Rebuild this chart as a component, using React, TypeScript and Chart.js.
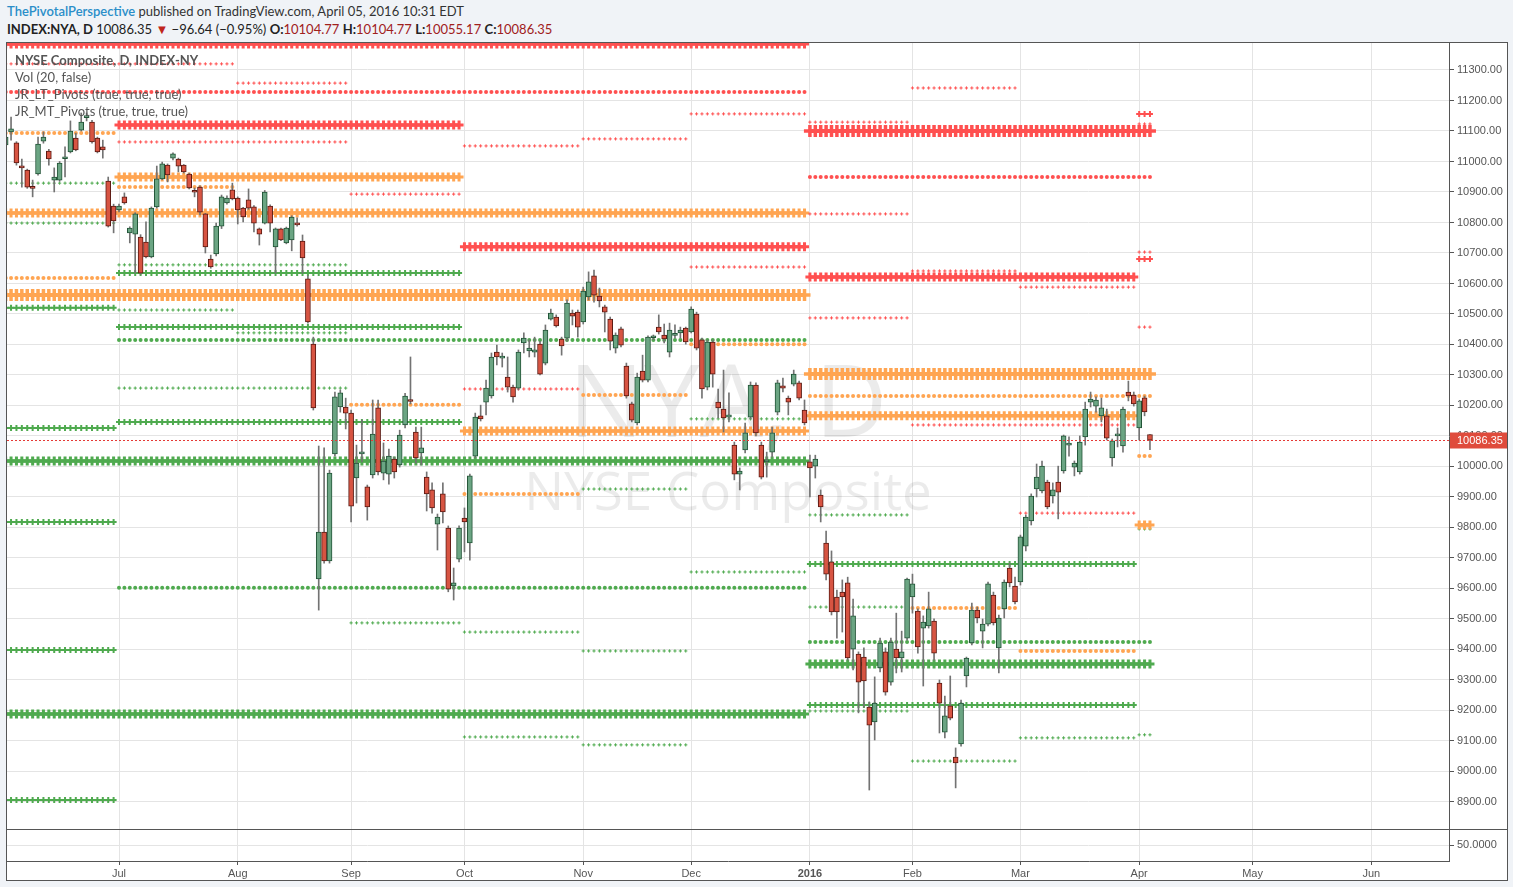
import React, { useEffect, useRef } from 'react';
import { Chart, registerables } from 'chart.js';
Chart.register(...registerables);

// ---------- DATA ----------
// trading-day index: 0 = 1 Jul 2015, first bar (-21) = 2 Jun 2015, last bar (191) = 5 Apr 2016
const FIRST_BAR = -21;
// [open, high, low, close]
const candles: number[][] = [
  [11054, 11146, 11050, 11080], [11097, 11146, 11070, 11107], [11061, 11065, 10988, 10995], [10981, 11008, 10916, 10979],
  [10972, 10975, 10912, 10916], [10914, 10939, 10884, 10912], [10959, 11080, 10955, 11057], [11067, 11097, 11060, 11080],
  [11034, 11040, 10988, 11008], [10939, 10979, 10900, 10949], [10939, 11000, 10935, 10995], [11009, 11048, 10949, 11011],
  [11031, 11133, 11028, 11100], [11077, 11093, 11035, 11038], [11103, 11159, 11100, 11129], [11144, 11159, 11133, 11146],
  [11129, 11135, 11060, 11064], [11077, 11080, 11028, 11031], [11048, 11070, 11011, 11038], [10936, 10949, 10785, 10788],
  [10854, 10860, 10766, 10805],
  // Jul 2015
  [10841, 10860, 10835, 10854], [10884, 10897, 10860, 10864], [10766, 10786, 10733, 10782], [10762, 10832, 10634, 10828],
  [10752, 10760, 10630, 10634], [10736, 10802, 10684, 10687], [10687, 10851, 10684, 10847], [10851, 10985, 10847, 10943],
  [10943, 10998, 10940, 10992], [10988, 10992, 10933, 10956], [11011, 11028, 11005, 11025], [11008, 11011, 10966, 10985],
  [10988, 10990, 10962, 10966], [10959, 10962, 10910, 10913], [10901, 10913, 10884, 10899], [10916, 10920, 10825, 10834],
  [10828, 10830, 10700, 10720], [10680, 10693, 10650, 10654], [10697, 10798, 10690, 10788], [10788, 10890, 10780, 10884],
  [10864, 10887, 10860, 10880], [10907, 10929, 10874, 10877],
  // Aug 2015
  [10880, 10884, 10795, 10841], [10847, 10850, 10802, 10818], [10874, 10910, 10843, 10847], [10851, 10855, 10769, 10798],
  [10779, 10782, 10726, 10762], [10798, 10905, 10795, 10900], [10854, 10858, 10769, 10798], [10720, 10782, 10634, 10779],
  [10779, 10782, 10740, 10743], [10733, 10785, 10730, 10782], [10743, 10822, 10707, 10818], [10798, 10815, 10788, 10792],
  [10739, 10759, 10634, 10684], [10615, 10625, 10470, 10474], [10401, 10424, 10185, 10192], [9631, 10067, 9529, 9785],
  [9785, 10061, 9683, 9690], [9690, 9988, 9683, 9978], [10041, 10244, 10034, 10228], [10195, 10251, 10178, 10241],
  [10195, 10224, 10123, 10175],
  // Sep 2015
  [10175, 10185, 9818, 9870], [9962, 10070, 9880, 10011], [10041, 10152, 10015, 10047], [9933, 9939, 9824, 9867],
  [9972, 10218, 9962, 10106], [10192, 10218, 9972, 9982], [9978, 10077, 9956, 10018], [9975, 10057, 9942, 10034],
  [10024, 10031, 9962, 9982], [10005, 10119, 9998, 10103], [10136, 10240, 10126, 10231], [10217, 10359, 10205, 10213],
  [10113, 10129, 10011, 10028], [10044, 10129, 10005, 10061], [9965, 9982, 9854, 9910], [9923, 9946, 9847, 9864],
  [9811, 9844, 9726, 9834], [9910, 9946, 9815, 9851], [9798, 9805, 9589, 9598], [9608, 9667, 9562, 9618],
  [9696, 9805, 9687, 9798],
  // Oct 2015
  [9831, 9864, 9720, 9818], [9749, 9975, 9693, 9969], [10034, 10175, 10028, 10162], [10166, 10201, 10149, 10156],
  [10211, 10283, 10169, 10257], [10231, 10372, 10224, 10359], [10375, 10398, 10333, 10359], [10355, 10372, 10326, 10358],
  [10293, 10359, 10244, 10260], [10260, 10267, 10211, 10228], [10257, 10382, 10251, 10375], [10405, 10438, 10372, 10421],
  [10379, 10415, 10359, 10388], [10375, 10424, 10359, 10382], [10401, 10411, 10300, 10303], [10339, 10464, 10333, 10447],
  [10483, 10516, 10480, 10503], [10490, 10497, 10457, 10461], [10418, 10424, 10365, 10395], [10421, 10546, 10411, 10536],
  [10503, 10513, 10464, 10493], [10506, 10513, 10424, 10457],
  // Nov 2015
  [10474, 10588, 10467, 10575], [10556, 10638, 10546, 10605], [10625, 10644, 10539, 10562], [10559, 10585, 10523, 10543],
  [10523, 10529, 10441, 10506], [10483, 10490, 10382, 10411], [10388, 10438, 10372, 10431], [10451, 10457, 10392, 10398],
  [10329, 10339, 10224, 10231], [10205, 10211, 10146, 10152], [10143, 10306, 10136, 10293], [10313, 10365, 10277, 10283],
  [10283, 10428, 10277, 10424], [10422, 10431, 10415, 10424], [10457, 10497, 10434, 10441], [10431, 10467, 10405, 10418],
  [10375, 10470, 10359, 10447], [10430, 10464, 10421, 10432], [10438, 10457, 10421, 10447], [10454, 10457, 10401, 10408],
  // Dec 2015
  [10441, 10523, 10438, 10516], [10500, 10506, 10382, 10388], [10415, 10421, 10224, 10254], [10260, 10415, 10251, 10408],
  [10408, 10415, 10260, 10303], [10211, 10254, 10159, 10192], [10188, 10316, 10113, 10159], [10162, 10241, 10146, 10169],
  [10070, 10080, 9956, 9975], [9975, 9995, 9923, 9985], [10054, 10142, 10044, 10110], [10162, 10277, 10156, 10267],
  [10267, 10274, 10100, 10110], [10070, 10080, 9959, 9965], [10015, 10047, 9965, 10021], [10047, 10129, 10031, 10110],
  [10178, 10283, 10169, 10274], [10264, 10290, 10244, 10257], [10224, 10231, 10169, 10211], [10270, 10316, 10264, 10303],
  [10274, 10280, 10218, 10224], [10185, 10218, 10136, 10143],
  // Jan 2016
  [10015, 10037, 9900, 9995], [10001, 10037, 9962, 10024], [9906, 9923, 9818, 9867], [9749, 9788, 9628, 9647],
  [9687, 9723, 9513, 9523], [9572, 9595, 9437, 9523], [9588, 9628, 9457, 9572], [9618, 9637, 9365, 9372],
  [9401, 9565, 9333, 9510], [9385, 9392, 9192, 9293], [9375, 9405, 9211, 9297], [9211, 9228, 8939, 9152],
  [9162, 9310, 9103, 9224], [9339, 9437, 9326, 9421], [9392, 9405, 9250, 9260], [9293, 9437, 9283, 9424],
  [9401, 9519, 9323, 9372], [9372, 9460, 9326, 9392], [9437, 9634, 9430, 9631],
  // Feb 2016
  [9572, 9647, 9519, 9615], [9526, 9533, 9388, 9408], [9470, 9510, 9280, 9490], [9477, 9588, 9470, 9533],
  [9493, 9500, 9365, 9388], [9290, 9300, 9126, 9224], [9129, 9247, 9110, 9182], [9215, 9313, 9169, 9175],
  [9047, 9077, 8946, 9028], [9090, 9234, 9083, 9224], [9313, 9375, 9277, 9372], [9421, 9552, 9415, 9529],
  [9529, 9539, 9487, 9503], [9460, 9500, 9405, 9483], [9483, 9621, 9477, 9615], [9578, 9588, 9480, 9487],
  [9405, 9513, 9323, 9503], [9533, 9628, 9503, 9621], [9667, 9683, 9605, 9618], [9608, 9637, 9549, 9556],
  // Mar 2016
  [9621, 9775, 9611, 9769], [9739, 9841, 9723, 9834], [9821, 9910, 9808, 9903], [9926, 10008, 9900, 9965],
  [9920, 10018, 9913, 10001], [9949, 9955, 9861, 9867], [9903, 9946, 9880, 9923], [9949, 10001, 9828, 9916],
  [9985, 10103, 9978, 10100], [10070, 10097, 10034, 10073], [9998, 10018, 9969, 10011], [9982, 10100, 9975, 10080],
  [10097, 10211, 10070, 10188], [10211, 10244, 10195, 10221], [10198, 10228, 10178, 10218], [10166, 10224, 10146, 10192],
  [10166, 10188, 10087, 10093], [10028, 10090, 10001, 10084], [10100, 10126, 10064, 10103], [10067, 10195, 10047, 10188],
  [10244, 10280, 10215, 10231], [10234, 10244, 10198, 10205],
  // Apr 2016
  [10126, 10221, 10087, 10215], [10225, 10231, 10166, 10179], [10104.77, 10104.77, 10055.17, 10086.35],
];

const LAST_CLOSE = 10086.35;

const monthTickIdx = [0, 22, 43, 64, 86, 106, 128, 147, 167, 189, 210, 232];
const monthLabels = ['Jul', 'Aug', 'Sep', 'Oct', 'Nov', 'Dec', '2016', 'Feb', 'Mar', 'Apr', 'May', 'Jun'];
const priceTicks = [8900, 9000, 9100, 9200, 9300, 9400, 9500, 9600, 9700, 9800, 9900, 10000, 10100, 10200, 10300,
  10400, 10500, 10600, 10700, 10800, 10900, 11000, 11100, 11200, 11300];
const volumeTicks = [50];

// pivot segments: [first bar, last bar, level]
const redXL = [[128, 191, 11100]];
const redBig = [[-21, 127, 11385], [0, 63, 11120], [64, 127, 10720], [128, 188, 10621]];
const redCross = [[189, 191, 10680], [189, 191, 11156]];
const redDot = [[-21, 127, 11228], [128, 191, 10949]];
const redSmall = [[-21, 21, 11320], [22, 42, 11257], [0, 42, 11064], [64, 85, 11051], [86, 105, 11074],
  [106, 127, 11156], [43, 63, 10893], [106, 127, 10654], [64, 85, 10254], [128, 146, 11129], [147, 166, 11241],
  [128, 146, 10828], [189, 191, 10703], [147, 166, 10641], [167, 188, 10588], [128, 146, 10487], [189, 191, 10457],
  [147, 188, 10136], [167, 188, 9847], [189, 191, 11123]];

const orangeXL = [[-21, 127, 10562], [128, 191, 10303]];
const orangeBig = [[0, 63, 10949], [-21, 127, 10831], [64, 127, 10116], [128, 188, 10166], [189, 191, 9808]];
const orangeDot = [[-21, -1, 11093], [0, 21, 10916], [-21, -1, 10618], [106, 127, 10401], [86, 105, 10234],
  [43, 63, 10202], [64, 85, 9910], [128, 191, 10231], [189, 191, 10034], [147, 166, 9536], [167, 188, 9395]];

const greenBig = [[-21, 127, 10018], [-21, 127, 9188], [128, 191, 9352]];
const greenCross = [[0, 63, 10634], [0, 63, 10457], [0, 63, 10146], [-21, -1, 10520], [-21, -1, 10126],
  [-21, -1, 9818], [-21, -1, 9398], [-21, -1, 8906], [128, 188, 9680], [128, 188, 9218]];
const greenDot = [[0, 127, 10415], [0, 127, 9602], [128, 191, 9424]];
const greenSmall = [[-21, -1, 10929], [-21, -1, 10798], [0, 42, 10661], [0, 21, 10513], [22, 42, 10438],
  [0, 42, 10257], [106, 127, 10156], [86, 105, 9926], [106, 127, 9654], [43, 63, 9487], [64, 85, 9457],
  [86, 105, 9395], [64, 85, 9113], [86, 105, 9087], [128, 146, 9841], [189, 191, 9795], [128, 146, 9539],
  [128, 146, 9198], [147, 166, 9034], [167, 188, 9110], [189, 191, 9120]];

// ---------- STYLE ----------
const RED = '#ff5050';
const ORANGE = '#ffa552';
const GREEN = '#4faa4f';
const UP_FILL = '#6ba583';
const UP_LINE = '#225437';
const DN_FILL = '#d75442';
const DN_LINE = '#5b1a13';
const WICK = '#737373';
const AXIS = '#555555';
const GRID = '#e4e4e4';
const TEXT = '#555555';
const X_MIN = -20.75;
const X_MAX = 246.4;
const P_MIN = 8811.2;
const P_MAX = 11388.5;

type Kind = 'xl' | 'big' | 'cross' | 'dot' | 'small';
const kindStyle: Record<Kind, any> = {
  xl: { pointStyle: 'cross', pointRadius: 6, pointBorderWidth: 3.5, showLine: true, borderWidth: 4 },
  big: { pointStyle: 'cross', pointRadius: 4.5, pointBorderWidth: 3, showLine: true, borderWidth: 3 },
  cross: { pointStyle: 'cross', pointRadius: 3, pointBorderWidth: 2, showLine: true, borderWidth: 1.5 },
  dot: { pointStyle: 'circle', pointRadius: 2, pointBorderWidth: 0, showLine: false, borderWidth: 0 },
  small: { pointStyle: 'cross', pointRadius: 1.6, pointBorderWidth: 1, showLine: false, borderWidth: 0 },
};

function pivotDatasets(rows: number[][], color: string, kind: Kind) {
  return rows.map(([s, e, level]) => {
    const data: { x: number; y: number }[] = [];
    for (let i = s; i <= e; i++) data.push({ x: i, y: level });
    return {
      type: 'line' as const,
      data,
      xAxisID: 'x',
      yAxisID: 'y',
      borderColor: color,
      backgroundColor: color,
      pointBackgroundColor: color,
      pointBorderColor: color,
      pointHoverRadius: 0,
      pointHitRadius: 0,
      fill: false,
      order: 10,
      ...kindStyle[kind],
    };
  });
}

const overlayPlugin = {
  id: 'overlay',
  beforeDatasetsDraw(chart: any) {
    const { ctx, chartArea } = chart;
    const yS = chart.scales.y;
    ctx.save();
    ctx.beginPath();
    ctx.rect(chartArea.left, yS.top, chartArea.right - chartArea.left, yS.bottom - yS.top);
    ctx.clip();
    const cx = (chartArea.left + chartArea.right) / 2;
    ctx.fillStyle = 'rgba(0,0,0,0.08)';
    ctx.textAlign = 'center';
    ctx.textBaseline = 'alphabetic';
    ctx.font = '400 100px "Open Sans", sans-serif';
    ctx.fillText('NYA, D', cx, 394);
    ctx.font = '400 53px "Open Sans", sans-serif';
    ctx.fillText('NYSE Composite', cx, 467);
    ctx.restore();
  },
  afterDatasetsDraw(chart: any) {
    const { ctx, chartArea, width } = chart;
    const yS = chart.scales.y;
    const py = Math.round(yS.getPixelForValue(LAST_CLOSE)) + 0.5;
    ctx.save();
    ctx.strokeStyle = '#e53935';
    ctx.lineWidth = 1;
    ctx.setLineDash([2, 2]);
    ctx.beginPath();
    ctx.moveTo(chartArea.left, py);
    ctx.lineTo(chartArea.right, py);
    ctx.stroke();
    ctx.setLineDash([]);
    // pane separator
    const sy = Math.round(yS.bottom) + 0.5;
    ctx.strokeStyle = AXIS;
    ctx.beginPath();
    ctx.moveTo(0, sy);
    ctx.lineTo(width, sy);
    ctx.stroke();
    // price label
    ctx.fillStyle = '#df4b3c';
    ctx.fillRect(chartArea.right + 1, py - 8, width - chartArea.right - 1, 16);
    ctx.fillStyle = '#ffffff';
    ctx.font = '11px "Liberation Sans", Arial, sans-serif';
    ctx.textAlign = 'left';
    ctx.textBaseline = 'middle';
    ctx.fillText(LAST_CLOSE.toFixed(2), chartArea.right + 8, py + 0.5);
    ctx.restore();
  },
};

const AXIS_FONT = '"Liberation Sans", Arial, sans-serif';

function zeroPad(s: any) {
  s.paddingLeft = 0;
  s.paddingRight = 0;
  s.paddingTop = 0;
  s.paddingBottom = 0;
}

export default function App() {
  const ref = useRef<HTMLCanvasElement>(null);

  useEffect(() => {
    document.body.style.margin = '0';
    document.body.style.background = '#f0f3f7';
    const bodies = candles.map((c, k) => ({ x: FIRST_BAR + k, y: [c[0], c[3]] }));
    const wicks = candles.map((c, k) => ({ x: FIRST_BAR + k, y: [c[2], c[1]] }));
    const up = candles.map((c) => c[3] >= c[0]);

    const datasets: any[] = [
      ...pivotDatasets(redXL, RED, 'xl'),
      ...pivotDatasets(redBig, RED, 'big'),
      ...pivotDatasets(redCross, RED, 'cross'),
      ...pivotDatasets(redDot, RED, 'dot'),
      ...pivotDatasets(redSmall, RED, 'small'),
      ...pivotDatasets(orangeXL, ORANGE, 'xl'),
      ...pivotDatasets(orangeBig, ORANGE, 'big'),
      ...pivotDatasets(orangeDot, ORANGE, 'dot'),
      ...pivotDatasets(greenBig, GREEN, 'big'),
      ...pivotDatasets(greenCross, GREEN, 'cross'),
      ...pivotDatasets(greenDot, GREEN, 'dot'),
      ...pivotDatasets(greenSmall, GREEN, 'small'),
      {
        type: 'bar',
        data: wicks,
        xAxisID: 'x',
        yAxisID: 'y',
        grouped: false,
        barThickness: 1,
        backgroundColor: WICK,
        borderWidth: 0,
        order: 2,
      },
      {
        type: 'bar',
        data: bodies,
        xAxisID: 'x',
        yAxisID: 'y',
        grouped: false,
        barThickness: 5,
        minBarLength: 2,
        backgroundColor: up.map((u) => (u ? UP_FILL : DN_FILL)),
        borderColor: up.map((u) => (u ? UP_LINE : DN_LINE)),
        borderWidth: 1,
        borderSkipped: false,
        order: 1,
      },
    ];

    const chart = new Chart(ref.current as HTMLCanvasElement, {
      type: 'bar',
      data: { datasets },
      plugins: [overlayPlugin],
      options: {
        responsive: false,
        animation: false,
        devicePixelRatio: 1,
        layout: { padding: 0, autoPadding: false },
        events: [],
        plugins: { legend: { display: false }, tooltip: { enabled: false } },
        scales: {
          x: {
            type: 'linear',
            min: X_MIN,
            max: X_MAX,
            offset: false,
            grid: { color: GRID, tickColor: AXIS, tickLength: 4, offset: false },
            border: { color: AXIS },
            ticks: {
              autoSkip: false,
              maxRotation: 0,
              padding: 2,
              color: TEXT,
              font: (ctx: any) => ({
                family: AXIS_FONT,
                size: 11,
                weight: ctx.tick && ctx.tick.label === '2016' ? 'bold' : 'normal',
              }),
              callback: (v: any) => {
                const k = monthTickIdx.indexOf(Number(v));
                return k >= 0 ? monthLabels[k] : '';
              },
            },
            afterBuildTicks: (s: any) => {
              s.ticks = monthTickIdx.map((v) => ({ value: v }));
            },
            afterFit: (s: any) => {
              s.height = 19;
              zeroPad(s);
            },
          },
          y: {
            type: 'linear',
            position: 'right',
            stack: 'pane',
            stackWeight: 786,
            min: P_MIN,
            max: P_MAX,
            grid: { color: GRID, tickColor: AXIS, tickLength: 5 },
            border: { color: AXIS },
            ticks: {
              autoSkip: false,
              padding: 3,
              color: TEXT,
              font: { family: AXIS_FONT, size: 11 },
              callback: (v: any) => Number(v).toFixed(2),
            },
            afterBuildTicks: (s: any) => {
              s.ticks = priceTicks.map((v) => ({ value: v }));
            },
            afterFit: (s: any) => {
              s.width = 58;
              zeroPad(s);
            },
          },
          yv: {
            type: 'linear',
            position: 'right',
            stack: 'pane',
            stackWeight: 32,
            min: 0,
            max: 100,
            grid: { color: GRID, tickColor: AXIS, tickLength: 5 },
            border: { color: AXIS },
            ticks: {
              autoSkip: false,
              padding: 3,
              color: TEXT,
              font: { family: AXIS_FONT, size: 11 },
              callback: (v: any) => Number(v).toFixed(4),
            },
            afterBuildTicks: (s: any) => {
              s.ticks = volumeTicks.map((v) => ({ value: v }));
            },
            afterFit: (s: any) => {
              s.width = 58;
              zeroPad(s);
            },
          },
        },
      } as any,
    } as any);
    return () => chart.destroy();
  }, []);

  const hdr: React.CSSProperties = {
    position: 'absolute',
    left: 7,
    fontFamily: 'Lato, "Open Sans", sans-serif',
    fontSize: 13,
    lineHeight: '16px',
    whiteSpace: 'nowrap',
    color: '#333',
  };
  const val: React.CSSProperties = { color: '#a0201c' };
  const leg: React.CSSProperties = {
    position: 'absolute',
    left: 8,
    fontFamily: 'Lato, "Open Sans", sans-serif',
    fontSize: 13,
    lineHeight: '16px',
    color: '#555',
    whiteSpace: 'nowrap',
  };

  return (
    <div style={{ position: 'relative', width: 1513, height: 887, background: '#f0f3f7', overflow: 'hidden' }}>
      <div style={{ ...hdr, top: 3 }}>
        <span style={{ color: '#2a8ec9', fontWeight: 600 }}>ThePivotalPerspective</span> published on TradingView.com, April 05, 2016 10:31 EDT
      </div>
      <div style={{ ...hdr, top: 21, color: '#222' }}>
        <b>INDEX:NYA, D</b> 10086.35 <span style={{ color: '#c0251c' }}>▼</span> −96.64 (−0.95%) <b>O:</b>
        <span style={val}>10104.77</span> <b>H:</b><span style={val}>10104.77</span> <b>L:</b>
        <span style={val}>10055.17</span> <b>C:</b><span style={val}>10086.35</span>
      </div>
      <div
        style={{
          position: 'absolute',
          left: 6,
          top: 42,
          width: 1500,
          height: 837,
          border: '1px solid #555',
          background: '#fff',
        }}
      >
        <canvas ref={ref} width={1500} height={837} style={{ display: 'block', width: 1500, height: 837 }} />
        <div style={{ ...leg, top: 9, fontWeight: 700 }}>NYSE Composite, D, INDEX-NY</div>
        <div style={{ ...leg, top: 26 }}>Vol (20, false)</div>
        <div style={{ ...leg, top: 43 }}>JR_LT_Pivots (true, true, true)</div>
        <div style={{ ...leg, top: 60 }}>JR_MT_Pivots (true, true, true)</div>
      </div>
    </div>
  );
}
